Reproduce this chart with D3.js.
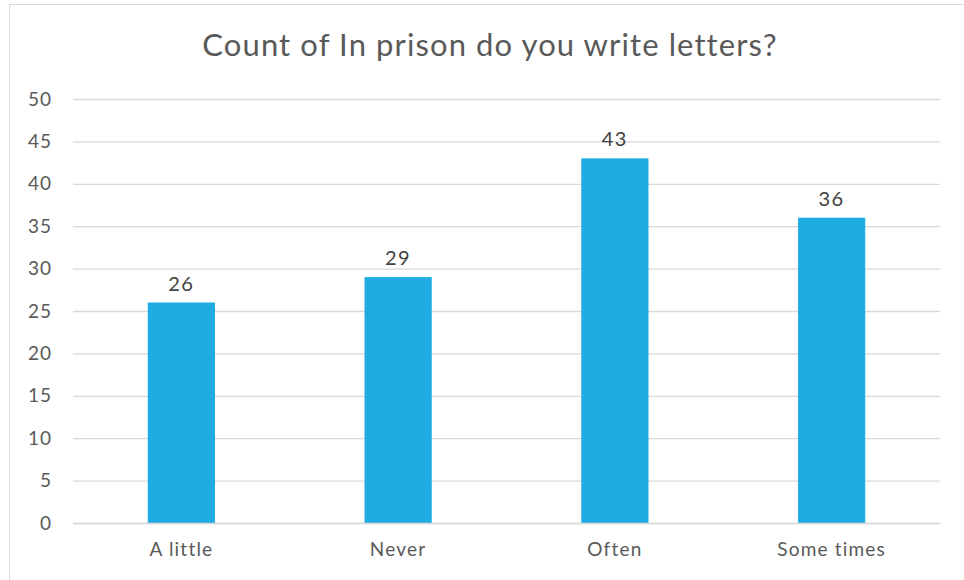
<!DOCTYPE html>
<html><head><meta charset="utf-8">
<script src="https://cdn.jsdelivr.net/npm/d3@7"></script>
<style>body{margin:0;background:#fff;} text{font-family:"Century Gothic",Lato,"Open Sans",sans-serif;}</style>
</head><body>
<svg id="c" width="964" height="580"></svg>
<script>
const categories = ["A little","Never","Often","Some times"];
const values = [26,29,43,36];
const yTicks = [0,5,10,15,20,25,30,35,40,45,50];
const title = "Count of In prison do you write letters?";

const svg = d3.select("#c");
svg.append("rect").attr("x",9.5).attr("y",4.5).attr("width",980).attr("height",600)
  .attr("fill","#fff").attr("stroke","#d9d9d9").attr("stroke-width",1);

const x = d3.scaleBand().domain(categories).range([73,940]).paddingInner(0.69).paddingOuter(0.345);
const y = d3.scaleLinear().domain([0,50]).range([523,99]);

const gy = svg.append("g").attr("transform","translate(73,0)")
  .call(d3.axisLeft(y).tickValues(yTicks).tickSize(-(940-73)).tickPadding(21));
gy.select(".domain").remove();
gy.selectAll("line").attr("stroke","#d9d9d9").attr("stroke-width",1.3);
gy.selectAll("text").attr("fill","#595959").style("font-size","19px").style("letter-spacing","1px");

svg.selectAll("rect.bar").data(values).enter().append("rect").attr("class","bar")
  .attr("x",(d,i)=>x(categories[i])).attr("width",x.bandwidth())
  .attr("y",d=>y(d)).attr("height",d=>y(0)-y(d)).attr("fill","#1eace3");

svg.selectAll("text.lbl").data(values).enter().append("text").attr("class","lbl")
  .attr("x",(d,i)=>x(categories[i])+x.bandwidth()/2).attr("y",d=>y(d)-12)
  .attr("text-anchor","middle").attr("fill","#404040").style("font-size","20px").style("letter-spacing","1.5px").text(d=>d);

const gx = svg.append("g").attr("transform","translate(0,523)")
  .call(d3.axisBottom(x).tickSize(0).tickPadding(20));
gx.select(".domain").attr("stroke","#d9d9d9").attr("stroke-width",1.3);
gx.selectAll("text").attr("fill","#595959").style("font-size","19px").style("letter-spacing","1.2px");

svg.append("text").attr("x",490).attr("y",56).attr("text-anchor","middle")
  .attr("fill","#595959").style("font-size","31px").style("letter-spacing","1.1px").text(title);
</script>
</body></html>
